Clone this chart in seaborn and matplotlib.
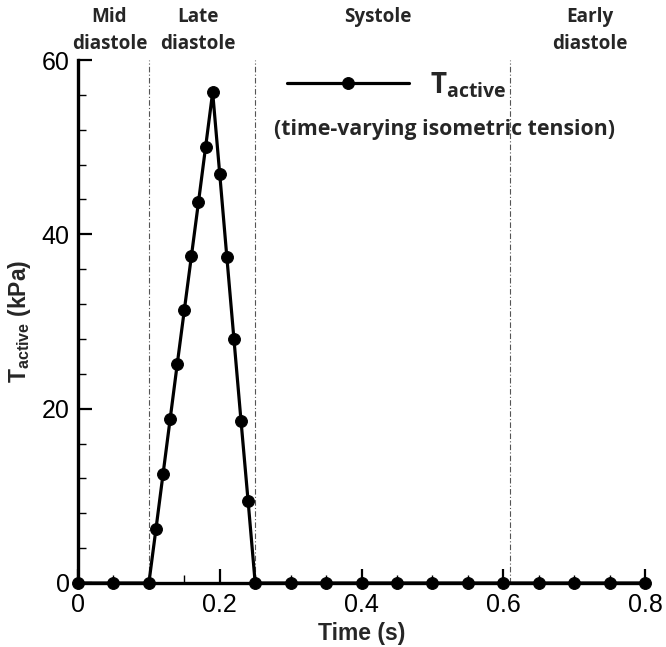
import matplotlib
matplotlib.use("Agg")
import matplotlib.pyplot as plt
import matplotlib.transforms as mtransforms
import seaborn as sns
import pandas as pd
from matplotlib.ticker import MultipleLocator

# ---- data ----
time_s = [0.0, 0.05, 0.10, 0.11, 0.12, 0.13, 0.14, 0.15, 0.16, 0.17, 0.18, 0.19,
          0.20, 0.21, 0.22, 0.23, 0.24, 0.25, 0.30, 0.35, 0.40, 0.45, 0.50,
          0.55, 0.60, 0.65, 0.70, 0.75, 0.80]
t_active = [0.0, 0.0, 0.0, 6.2, 12.5, 18.8, 25.1, 31.3, 37.5, 43.7, 50.0, 56.3,
            46.9, 37.4, 28.0, 18.6, 9.4, 0.0, 0.0, 0.0, 0.0, 0.0, 0.0,
            0.0, 0.0, 0.0, 0.0, 0.0, 0.0]
phase_bounds = [0.10, 0.25, 0.61]
phase_labels = ["Mid\ndiastole", "Late\ndiastole", "Systole", "Early\ndiastole"]
phase_label_x = [0.0445, 0.169, 0.423, 0.722]
x_ticks = [0, 0.2, 0.4, 0.6, 0.8]
x_ticklabels = ["0", "0.2", "0.4", "0.6", "0.8"]
y_ticks = [0, 20, 40, 60]

df = pd.DataFrame({"time": time_s, "T": t_active})

sns.set_style("white")
ARIAL = ["Liberation Sans", "DejaVu Sans"]
OPEN = ["Open Sans", "DejaVu Sans"]
plt.rcParams["font.family"] = ARIAL
plt.rcParams["mathtext.fontset"] = "custom"
plt.rcParams["mathtext.rm"] = "Open Sans"
plt.rcParams["mathtext.bf"] = "Open Sans:bold"
plt.rcParams["xtick.direction"] = "in"
plt.rcParams["ytick.direction"] = "in"
plt.rcParams["xtick.bottom"] = True
plt.rcParams["ytick.left"] = True
plt.rcParams["xtick.minor.visible"] = True
plt.rcParams["ytick.minor.visible"] = True

fig = plt.figure(figsize=(6.66, 6.47), dpi=100)
ax = fig.add_axes([78/666, 1-583/647, (645-78)/666, (583-60)/647])

for xb in phase_bounds:
    ax.axvline(xb, color="#555555", lw=0.8, linestyle=(0, (5, 2, 1, 2)), zorder=1)

sns.lineplot(data=df, x="time", y="T", ax=ax, color="black", lw=2.3,
             marker="o", markersize=8.5, markeredgecolor="black",
             markerfacecolor="black", estimator=None, sort=True,
             label=r"$\mathbf{T}_{\mathbf{active}}$", clip_on=False, zorder=3)

ax.set_xlim(0, 0.8)
ax.set_ylim(0, 60)
ax.set_xticks(x_ticks)
ax.set_xticklabels(x_ticklabels)
ax.set_yticks(y_ticks)
ax.xaxis.set_minor_locator(MultipleLocator(0.05))
ax.yaxis.set_minor_locator(MultipleLocator(4))
ax.tick_params(axis="both", which="both", bottom=True, left=True, top=False,
               right=False, direction="in", colors="black")
ax.tick_params(axis="both", which="major", length=10, width=1.6, labelsize=18)
ax.tick_params(axis="x", which="major", pad=7)
ax.tick_params(axis="y", which="major", pad=6)
ax.tick_params(axis="both", which="minor", length=5.5, width=1.0)

for s in ["top", "right"]:
    ax.spines[s].set_visible(False)
for s in ["left", "bottom"]:
    ax.spines[s].set_linewidth(2.4)
    ax.spines[s].set_color("black")

ax.set_xlabel("Time (s)", fontsize=16.5, fontweight="bold", labelpad=4)
ax.set_ylabel(r"T$_{\mathregular{active}}$ (kPa)", fontsize=16.5, fontweight="bold", labelpad=6)

trans = mtransforms.blended_transform_factory(ax.transData, fig.transFigure)
for lx, lt in zip(phase_label_x, phase_labels):
    ax.text(lx, 1 - 7/647, lt, transform=trans, ha="center", va="top",
            fontsize=13.6, fontweight="bold", linespacing=1.45, family=OPEN)

leg = ax.legend(loc="center left", bbox_to_anchor=((287-78)/567, (583-85)/523),
                frameon=False, handlelength=4.4, fontsize=20, handletextpad=0.75,
                borderpad=0, borderaxespad=0)
ax.text((274-78)/567, (583-129)/523, "(time-varying isometric tension)",
        transform=ax.transAxes, ha="left", va="center", fontsize=15.3,
        fontweight="bold", family=OPEN)

fig.savefig("out.png", dpi=100)
